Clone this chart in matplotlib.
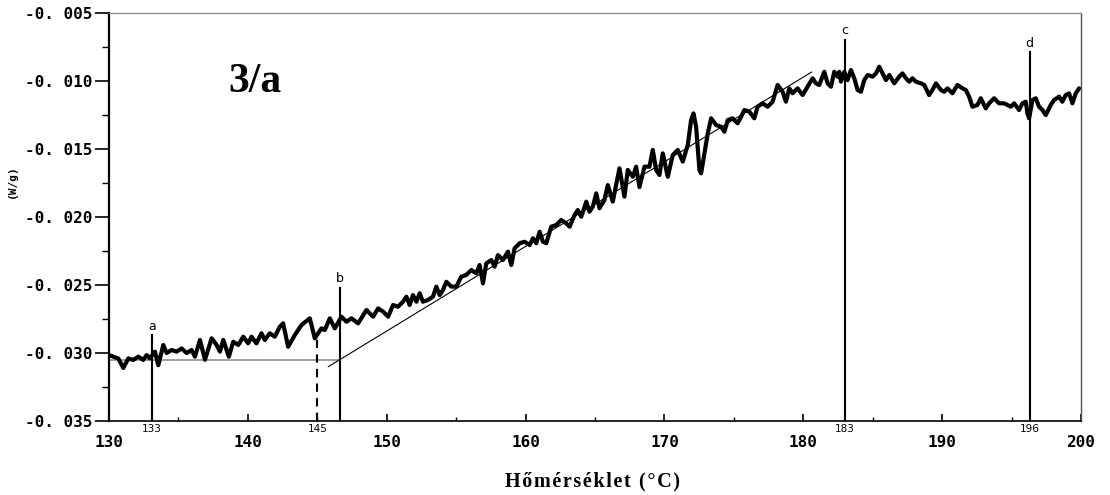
import matplotlib
matplotlib.use("Agg")
import matplotlib.pyplot as plt
from matplotlib.ticker import MultipleLocator, FuncFormatter

# DSC curve: temperature (°C) and heat flow (W/g)
temp = [130.00, 130.31, 130.67, 131.03, 131.39, 131.75, 132.11, 132.47, 132.71, 132.95,
        133.31, 133.55, 133.91, 134.15, 134.51, 134.87, 135.23, 135.59, 135.95, 136.19,
        136.55, 136.91, 137.39, 137.75, 137.99, 138.23, 138.63, 138.95, 139.31, 139.67,
        140.02, 140.26, 140.62, 140.98, 141.22, 141.58, 141.94, 142.30, 142.54, 142.90,
        143.38, 143.86, 144.46, 144.82, 145.30, 145.54, 145.90, 146.26, 146.74, 147.10,
        147.46, 147.94, 148.54, 149.02, 149.38, 149.74, 150.10, 150.46, 150.81, 151.17,
        151.42, 151.65, 151.89, 152.14, 152.37, 152.61, 152.97, 153.33, 153.57, 153.81,
        154.05, 154.29, 154.65, 155.01, 155.37, 155.73, 156.09, 156.45, 156.69, 156.93,
        157.17, 157.53, 157.77, 158.01, 158.37, 158.73, 158.97, 159.21, 159.57, 159.93,
        160.29, 160.53, 160.77, 161.01, 161.25, 161.49, 161.85, 162.21, 162.57, 162.93,
        163.17, 163.53, 163.76, 164.01, 164.37, 164.60, 164.84, 165.09, 165.32, 165.68,
        165.92, 166.28, 166.76, 167.12, 167.36, 167.72, 167.96, 168.20, 168.56, 168.92,
        169.16, 169.40, 169.64, 169.88, 170.24, 170.60, 170.96, 171.32, 171.68, 171.92,
        172.09, 172.28, 172.52, 172.64, 172.88, 173.12, 173.36, 173.72, 174.08, 174.32,
        174.56, 174.91, 175.27, 175.52, 175.76, 176.12, 176.47, 176.71, 177.07, 177.43,
        177.79, 178.15, 178.51, 178.75, 178.99, 179.23, 179.59, 179.95, 180.31, 180.67,
        180.91, 181.15, 181.51, 181.75, 181.99, 182.23, 182.47, 182.59, 182.71, 182.95,
        183.19, 183.43, 183.67, 183.91, 184.15, 184.39, 184.63, 184.99, 185.23, 185.47,
        185.71, 185.95, 186.19, 186.55, 186.91, 187.14, 187.39, 187.63, 187.86, 188.11,
        188.47, 188.71, 189.06, 189.30, 189.55, 189.91, 190.14, 190.38, 190.74, 191.10,
        191.46, 191.70, 191.94, 192.18, 192.54, 192.78, 193.14, 193.38, 193.74, 194.10,
        194.46, 194.70, 194.94, 195.18, 195.54, 195.78, 196.02, 196.14, 196.26, 196.50,
        196.74, 196.98, 197.22, 197.46, 197.82, 198.06, 198.42, 198.65, 198.90, 199.14,
        199.38, 199.62, 199.86]
heat_flow = [-0.03015, -0.03027, -0.03040, -0.03110, -0.03040, -0.03051, -0.03027, -0.03051, -0.03015, -0.03040,
             -0.02990, -0.03090, -0.02941, -0.03000, -0.02978, -0.02990, -0.02966, -0.03000, -0.02978, -0.03027,
             -0.02904, -0.03050, -0.02892, -0.02941, -0.02990, -0.02904, -0.03027, -0.02917, -0.02941, -0.02880,
             -0.02929, -0.02880, -0.02929, -0.02855, -0.02904, -0.02855, -0.02880, -0.02807, -0.02782, -0.02954,
             -0.02868, -0.02794, -0.02745, -0.02892, -0.02819, -0.02831, -0.02745, -0.02819, -0.02733, -0.02770,
             -0.02745, -0.02782, -0.02684, -0.02733, -0.02672, -0.02696, -0.02733, -0.02647, -0.02660, -0.02623,
             -0.02586, -0.02647, -0.02574, -0.02623, -0.02561, -0.02623, -0.02610, -0.02586, -0.02512, -0.02574,
             -0.02537, -0.02476, -0.02512, -0.02512, -0.02439, -0.02426, -0.02390, -0.02414, -0.02353, -0.02488,
             -0.02341, -0.02316, -0.02365, -0.02280, -0.02316, -0.02255, -0.02353, -0.02230, -0.02193, -0.02182,
             -0.02206, -0.02157, -0.02193, -0.02108, -0.02182, -0.02193, -0.02071, -0.02059, -0.02022, -0.02047,
             -0.02071, -0.01985, -0.01949, -0.01998, -0.01887, -0.01961, -0.01924, -0.01826, -0.01936, -0.01875,
             -0.01765, -0.01887, -0.01642, -0.01850, -0.01654, -0.01704, -0.01630, -0.01780, -0.01630, -0.01630,
             -0.01507, -0.01654, -0.01691, -0.01532, -0.01704, -0.01544, -0.01507, -0.01593, -0.01470, -0.01287,
             -0.01238, -0.01336, -0.01654, -0.01679, -0.01532, -0.01385, -0.01274, -0.01324, -0.01336, -0.01373,
             -0.01287, -0.01274, -0.01311, -0.01262, -0.01213, -0.01226, -0.01274, -0.01189, -0.01164, -0.01189,
             -0.01152, -0.01029, -0.01079, -0.01152, -0.01054, -0.01090, -0.01054, -0.01103, -0.01042, -0.00980,
             -0.01017, -0.01029, -0.00932, -0.01017, -0.01042, -0.00932, -0.00968, -0.00932, -0.01005, -0.00932,
             -0.00993, -0.00919, -0.00980, -0.01066, -0.01079, -0.00993, -0.00956, -0.00968, -0.00944, -0.00895,
             -0.00944, -0.00993, -0.00956, -0.01017, -0.00968, -0.00944, -0.00980, -0.01005, -0.00980, -0.01005,
             -0.01017, -0.01029, -0.01103, -0.01066, -0.01017, -0.01066, -0.01079, -0.01054, -0.01090, -0.01029,
             -0.01054, -0.01066, -0.01115, -0.01189, -0.01176, -0.01127, -0.01201, -0.01164, -0.01127, -0.01164,
             -0.01164, -0.01176, -0.01189, -0.01164, -0.01213, -0.01164, -0.01152, -0.01238, -0.01274, -0.01140,
             -0.01127, -0.01189, -0.01213, -0.01250, -0.01176, -0.01140, -0.01115, -0.01152, -0.01103, -0.01091,
             -0.01164, -0.01091, -0.01054]

# marker lines a-d: temperature, top end of the line, letter
marker_temp = [133.1, 146.6, 183.0, 196.3]
marker_top = [-0.0287, -0.0252, -0.0070, -0.0079]
marker_label = ["a", "b", "c", "d"]
marker_ticklabel = ["133", "145", "183", "196"]
dashed_temp = 145.0
dashed_top = -0.0290

# construction lines
baseline_x = [130.0, 146.6]
baseline_y = [-0.0305, -0.0305]
tangent_x = [145.8, 180.6]
tangent_y = [-0.0310, -0.00934]

fig = plt.figure(figsize=(11.1, 4.95), dpi=100)
ax = fig.add_axes([0.0982, 0.1495, 0.8757, 0.8242])

ax.plot(baseline_x, baseline_y, color="#9a9a9a", lw=1.3)
ax.plot(tangent_x, tangent_y, color="black", lw=0.8)
ax.plot(temp, heat_flow, color="black", lw=3.0, solid_joinstyle="round", solid_capstyle="round")

for t, top, lab in zip(marker_temp, marker_top, marker_label):
    ax.plot([t, t], [-0.035, top], color="black", lw=1.5)
    ax.text(t, top + 0.0002, lab, ha="center", va="bottom", fontsize=9,
            family="DejaVu Sans")
ax.plot([dashed_temp, dashed_temp], [-0.035, dashed_top], color="black", lw=1.5,
        dashes=(4, 3))

# small temperature labels under the marker lines
small_pos = [133.1, 145.0, 183.0, 196.3]
for t, lab in zip(small_pos, marker_ticklabel):
    ax.text(t, -0.0352, lab, ha="center", va="top", fontsize=7.5,
            family="DejaVu Sans")

ax.set_xlim(130, 200)
ax.set_ylim(-0.035, -0.005)
ax.xaxis.set_major_locator(MultipleLocator(10))
ax.xaxis.set_minor_locator(MultipleLocator(5))
ax.yaxis.set_major_locator(MultipleLocator(0.005))
ax.yaxis.set_minor_locator(MultipleLocator(0.0025))
ax.yaxis.set_major_formatter(FuncFormatter(lambda v, p: f"{v:.3f}".replace(".", ". ")))

ax.tick_params(axis="y", which="major", direction="out", length=10, width=1.2, pad=2)
ax.tick_params(axis="y", which="minor", direction="out", length=5, width=1.0)
ax.tick_params(axis="x", which="major", direction="in", length=5, width=1.2, pad=10)
ax.tick_params(axis="x", which="minor", direction="in", length=3, width=1.0)
for lbl in ax.get_xticklabels() + ax.get_yticklabels():
    lbl.set_family("DejaVu Sans Mono")
    lbl.set_fontweight("bold")
    lbl.set_fontsize(11.5)

ax.spines["left"].set_linewidth(1.6)
ax.spines["bottom"].set_linewidth(1.2)
ax.spines["top"].set_color("#8a8a8a")
ax.spines["top"].set_linewidth(0.9)
ax.spines["right"].set_color("#555555")
ax.spines["right"].set_linewidth(1.0)
ax.spines["right"].set_linestyle((0, (3, 1)))

ax.text(0.150, 0.83, "3/a", transform=ax.transAxes, ha="center", va="center",
        fontsize=30, fontweight="bold", family="Liberation Serif")

fig.text(0.0108, 0.634, "(W/g)", rotation=90, ha="center", va="center",
         fontsize=8, fontweight="bold", family="DejaVu Sans Mono")

xlab = "\u200a".join("Hőmérséklet (°C)")
fig.text(0.534, 0.027, xlab, ha="center", va="center", fontsize=14.5,
         fontweight="bold", family=["Liberation Serif", "DejaVu Serif"])

fig.savefig("out.png", dpi=100)
